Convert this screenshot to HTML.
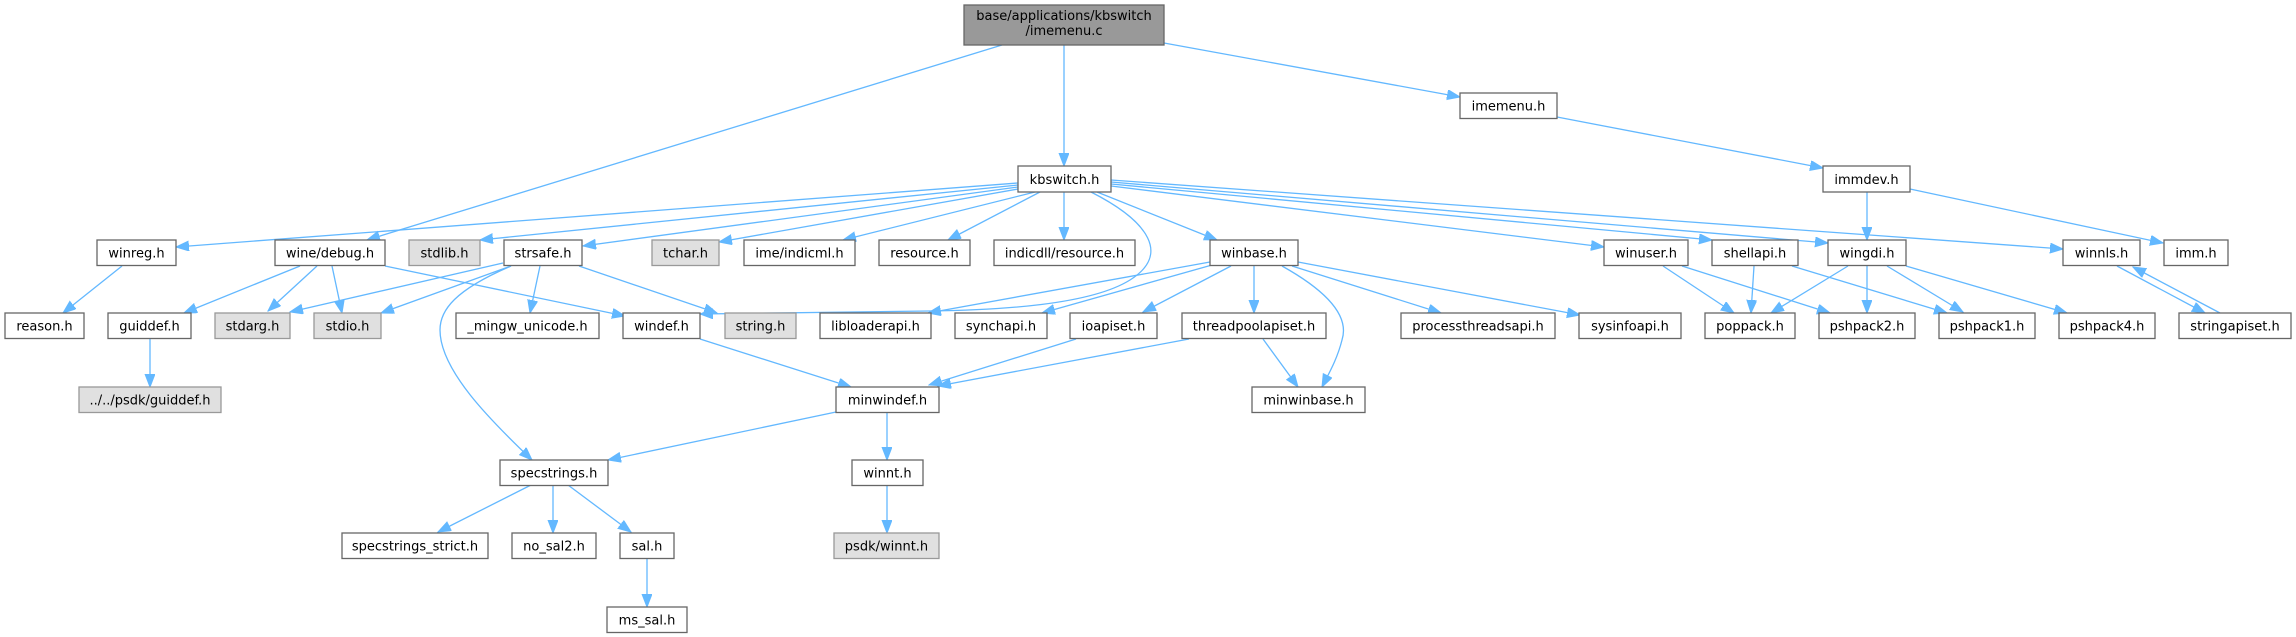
<!DOCTYPE html>
<html><head><meta charset="utf-8"><style>
html,body{margin:0;padding:0;background:#fff;}
svg{display:block;}
text{font-family:"DejaVu Sans","Liberation Sans",sans-serif;font-size:13px;fill:#000;text-anchor:middle;}
.e{fill:none;stroke:#63b8ff;stroke-width:1.3;marker-end:url(#a);}
.n{fill:#fff;stroke:#666;stroke-width:1.3;}
.g{fill:#e0e0e0;stroke:#999;stroke-width:1.3;}
</style></head><body>
<svg width="2296" height="637" viewBox="0 0 2296 637" xmlns="http://www.w3.org/2000/svg">
<defs><marker id="a" markerWidth="14" markerHeight="11" refX="13" refY="5" orient="auto" markerUnits="userSpaceOnUse"><path d="M0,0 L13,5 L0,10 z" fill="#63b8ff" stroke="#63b8ff" stroke-width="1"/></marker></defs>
<g>
<path class="e" d="M1064,45 L1064,166"/>
<path class="e" d="M1002,45 L367,240"/>
<path class="e" d="M1164,43 L1460,97"/>
<path class="e" d="M1557,117 L1823,168"/>
<path class="e" d="M1867,192 L1867,240"/>
<path class="e" d="M1910,189 L2163,243"/>
<path class="e" d="M1018,183 L176,247"/>
<path class="e" d="M1018,185 L480,240"/>
<path class="e" d="M1018,187 L583,246"/>
<path class="e" d="M1018,189 L719,242"/>
<path class="e" d="M1035,192 L843,240"/>
<path class="e" d="M1040,192 L948,240"/>
<path class="e" d="M1064,192 L1064,240"/>
<path class="e" d="M1091,192 C1150,222 1170,255 1130,280 C1090,305 1000,310 930,311 L700,314"/>
<path class="e" d="M1097,192 L1217,240"/>
<path class="e" d="M1111,186 L1604,247"/>
<path class="e" d="M1111,184 L1712,240"/>
<path class="e" d="M1111,182 L1828,243"/>
<path class="e" d="M1111,180 L2063,249"/>
<path class="e" d="M300,266 L184,313"/>
<path class="e" d="M317,266 L268,311"/>
<path class="e" d="M332,266 L342,313"/>
<path class="e" d="M385,266 L625,316"/>
<path class="e" d="M122,266 L63,313"/>
<path class="e" d="M150,339 L150,387"/>
<path class="e" d="M503,263 L290,312"/>
<path class="e" d="M511,266 L381,313"/>
<path class="e" d="M540,266 L530,313"/>
<path class="e" d="M579,266 L717,313"/>
<path class="e" d="M511,266 C455,290 440,310 440,330 C440,370 490,420 532,460"/>
<path class="e" d="M1210,262 L928,313"/>
<path class="e" d="M1212,265 L1042,313"/>
<path class="e" d="M1231,266 L1143,312"/>
<path class="e" d="M1254,266 L1254,313"/>
<path class="e" d="M1282,266 C1325,290 1350,315 1342,340 C1337,360 1328,375 1322,387"/>
<path class="e" d="M1292,266 L1441,313"/>
<path class="e" d="M1298,262 L1580,315"/>
<path class="e" d="M1189,339 L938,386"/>
<path class="e" d="M1263,339 L1298,387"/>
<path class="e" d="M1076,339 L929,385"/>
<path class="e" d="M700,339 L851,387"/>
<path class="e" d="M836,412 L608,460"/>
<path class="e" d="M887,412 L887,460"/>
<path class="e" d="M887,485 L887,533"/>
<path class="e" d="M531,485 L438,532"/>
<path class="e" d="M553,485 L553,533"/>
<path class="e" d="M568,485 L631,532"/>
<path class="e" d="M647,559 L647,607"/>
<path class="e" d="M1663,266 L1734,313"/>
<path class="e" d="M1682,266 L1830,313"/>
<path class="e" d="M1754,266 L1751,313"/>
<path class="e" d="M1792,266 L1947,313"/>
<path class="e" d="M1848,266 L1771,313"/>
<path class="e" d="M1867,266 L1867,313"/>
<path class="e" d="M1887,266 L1963,312"/>
<path class="e" d="M1906,266 L2067,313"/>
<path class="e" d="M2117,266 L2205,313"/>
<path class="e" d="M2220,313 L2133,267"/>
</g>
<g>
<rect x="964" y="5" width="200" height="40" fill="#999" stroke="#666" stroke-width="1.3"/>
<text x="1064" y="20">base/applications/kbswitch</text>
<text x="1064" y="35">/imemenu.c</text>

<rect class="n" x="1460" y="93" width="97" height="25.5"/><text x="1508.5" y="110.5">imemenu.h</text>
<rect class="n" x="1018" y="166" width="93" height="26"/><text x="1064.5" y="184">kbswitch.h</text>
<rect class="n" x="1823" y="166" width="87" height="26"/><text x="1866.5" y="184">immdev.h</text>

<rect class="n" x="97" y="240" width="79" height="25.5"/><text x="136.5" y="257.5">winreg.h</text>
<rect class="n" x="275" y="240" width="110" height="25.5"/><text x="330" y="257.5">wine/debug.h</text>
<rect class="g" x="409" y="240" width="71" height="25.5"/><text x="444.5" y="257.5">stdlib.h</text>
<rect class="n" x="504" y="240" width="78" height="25.5"/><text x="543" y="257.5">strsafe.h</text>
<rect class="g" x="652" y="240" width="67" height="25.5"/><text x="685.5" y="257.5">tchar.h</text>
<rect class="n" x="744" y="240" width="111" height="25.5"/><text x="799.5" y="257.5">ime/indicml.h</text>
<rect class="n" x="879" y="240" width="91" height="25.5"/><text x="924.5" y="257.5">resource.h</text>
<rect class="n" x="994" y="240" width="141" height="25.5"/><text x="1064.5" y="257.5">indicdll/resource.h</text>
<rect class="n" x="1210" y="240" width="88" height="25.5"/><text x="1254" y="257.5">winbase.h</text>
<rect class="n" x="1604" y="240" width="84" height="25.5"/><text x="1646" y="257.5">winuser.h</text>
<rect class="n" x="1712" y="240" width="86" height="25.5"/><text x="1755" y="257.5">shellapi.h</text>
<rect class="n" x="1828" y="240" width="78" height="25.5"/><text x="1867" y="257.5">wingdi.h</text>
<rect class="n" x="2063" y="240" width="77" height="25.5"/><text x="2101.5" y="257.5">winnls.h</text>
<rect class="n" x="2164" y="240" width="64" height="25.5"/><text x="2196" y="257.5">imm.h</text>

<rect class="n" x="5" y="313" width="79" height="25.5"/><text x="44.5" y="330.5">reason.h</text>
<rect class="n" x="108" y="313" width="83" height="25.5"/><text x="149.5" y="330.5">guiddef.h</text>
<rect class="g" x="215" y="313" width="75" height="25.5"/><text x="252.5" y="330.5">stdarg.h</text>
<rect class="g" x="314" y="313" width="67" height="25.5"/><text x="347.5" y="330.5">stdio.h</text>
<rect class="n" x="456" y="313" width="143" height="25.5"/><text x="527.5" y="330.5">_mingw_unicode.h</text>
<rect class="n" x="623" y="313" width="77" height="25.5"/><text x="661.5" y="330.5">windef.h</text>
<rect class="g" x="725" y="313" width="71" height="25.5"/><text x="760.5" y="330.5">string.h</text>
<rect class="n" x="820" y="313" width="111" height="25.5"/><text x="875.5" y="330.5">libloaderapi.h</text>
<rect class="n" x="955" y="313" width="92" height="25.5"/><text x="1001" y="330.5">synchapi.h</text>
<rect class="n" x="1070" y="313" width="87" height="25.5"/><text x="1113.5" y="330.5">ioapiset.h</text>
<rect class="n" x="1182" y="313" width="144" height="25.5"/><text x="1254" y="330.5">threadpoolapiset.h</text>
<rect class="n" x="1401" y="313" width="154" height="25.5"/><text x="1478" y="330.5">processthreadsapi.h</text>
<rect class="n" x="1579" y="313" width="102" height="25.5"/><text x="1630" y="330.5">sysinfoapi.h</text>
<rect class="n" x="1705" y="313" width="90" height="25.5"/><text x="1750" y="330.5">poppack.h</text>
<rect class="n" x="1819" y="313" width="96" height="25.5"/><text x="1867" y="330.5">pshpack2.h</text>
<rect class="n" x="1939" y="313" width="96" height="25.5"/><text x="1987" y="330.5">pshpack1.h</text>
<rect class="n" x="2059" y="313" width="96" height="25.5"/><text x="2107" y="330.5">pshpack4.h</text>
<rect class="n" x="2179" y="313" width="112" height="25.5"/><text x="2235" y="330.5">stringapiset.h</text>

<rect class="g" x="79" y="387" width="142" height="25.5"/><text x="150" y="404.5">../../psdk/guiddef.h</text>
<rect class="n" x="836" y="387" width="103" height="25.5"/><text x="887.5" y="404.5">minwindef.h</text>
<rect class="n" x="1252" y="387" width="113" height="25.5"/><text x="1308.5" y="404.5">minwinbase.h</text>

<rect class="n" x="500" y="460" width="108" height="25.5"/><text x="554" y="477.5">specstrings.h</text>
<rect class="n" x="852" y="460" width="71" height="25.5"/><text x="887.5" y="477.5">winnt.h</text>

<rect class="n" x="342" y="533" width="146" height="25.5"/><text x="415" y="550.5">specstrings_strict.h</text>
<rect class="n" x="512" y="533" width="84" height="25.5"/><text x="554" y="550.5">no_sal2.h</text>
<rect class="n" x="620" y="533" width="54" height="25.5"/><text x="647" y="550.5">sal.h</text>
<rect class="g" x="834" y="533" width="105" height="25.5"/><text x="886.5" y="550.5">psdk/winnt.h</text>

<rect class="n" x="607" y="607" width="80" height="25.5"/><text x="647" y="624.5">ms_sal.h</text>
</g>
</svg>
</body></html>
